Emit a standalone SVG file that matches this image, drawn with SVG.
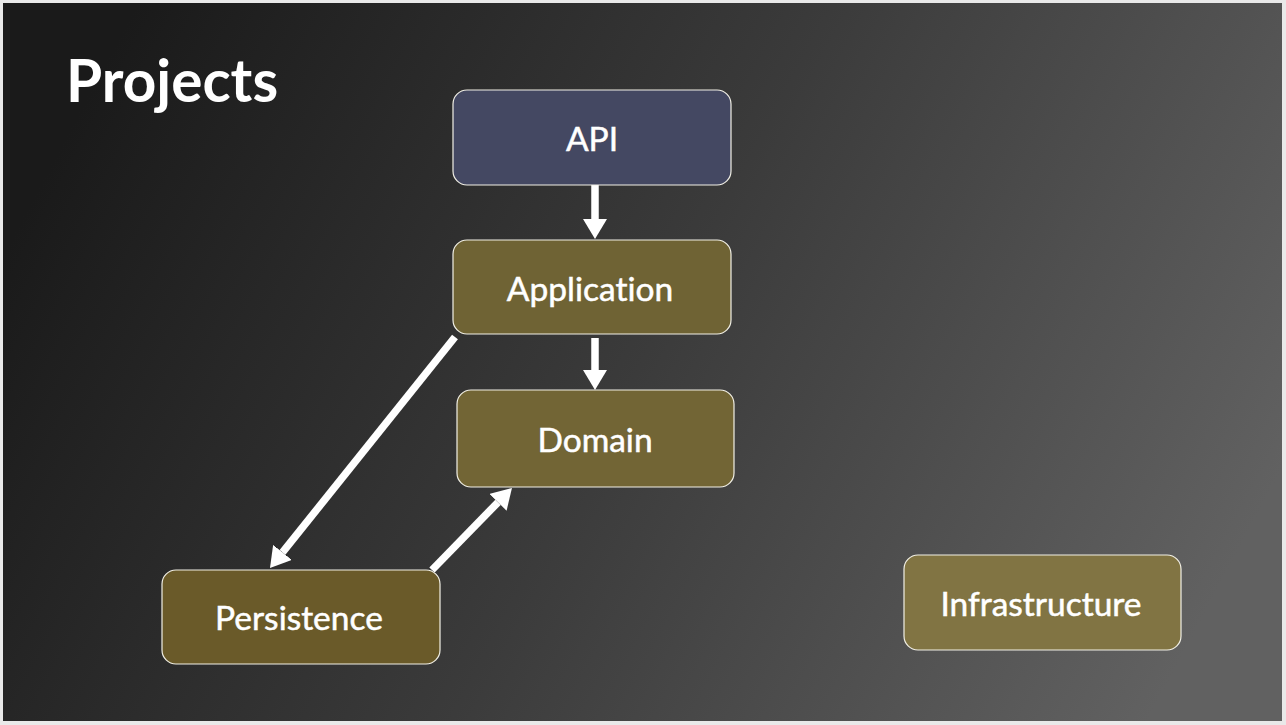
<svg xmlns="http://www.w3.org/2000/svg" width="1286" height="725" viewBox="0 0 1286 725">
<defs>
<linearGradient id="bg" x1="0" y1="0.35" x2="1" y2="0.65">
<stop offset="0" stop-color="#1a1a1a"/>
<stop offset="0.5" stop-color="#3b3b3b"/>
<stop offset="1" stop-color="#616161"/>
</linearGradient>
<marker id="ah" viewBox="0 0 20 24" markerWidth="20" markerHeight="24" refX="0" refY="12" orient="auto" markerUnits="userSpaceOnUse">
<path d="M0,0 L20,12 L0,24 z" fill="#ffffff"/>
</marker>
</defs>
<style>
.node rect{stroke:#f2f0e6;stroke-width:1.2}
.node text{font-family:Lato,"Open Sans","Liberation Sans",sans-serif;font-size:33.5px;fill:#ffffff;text-anchor:middle;dominant-baseline:central;font-variant-ligatures:none;stroke:#ffffff;stroke-width:0.5}
.conn line{stroke:#ffffff;stroke-width:7.5;fill:none}
</style>
<rect x="0" y="0" width="1286" height="725" fill="#e9e9e9"/>
<rect x="3" y="3" width="1279" height="718" fill="url(#bg)"/>
<text x="66" y="102" font-family="Lato,'Open Sans','Liberation Sans',sans-serif" font-weight="bold" font-size="58.5" fill="#ffffff">Projects</text>
<g id="connectors" class="conn">
<line x1="595" y1="185" x2="595" y2="219" marker-end="url(#ah)"/>
<line x1="595" y1="338" x2="595" y2="370" marker-end="url(#ah)"/>
<line x1="455" y1="337" x2="282.5" y2="552.4" marker-end="url(#ah)"/>
<line x1="432" y1="570" x2="498" y2="502.3" marker-end="url(#ah)"/>
</g>
<g id="api" class="node"><rect x="453" y="90" width="278" height="95" rx="14" fill="#444862"/><text x="592" y="138">API</text></g>
<g id="application" class="node"><rect x="453" y="240" width="278" height="94" rx="14" fill="#6f6334"/><text x="590" y="288">Application</text></g>
<g id="domain" class="node"><rect x="457" y="390" width="277" height="97" rx="14" fill="#726535"/><text x="595" y="439">Domain</text></g>
<g id="persistence" class="node"><rect x="162" y="570" width="278" height="94" rx="14" fill="#6a5a29"/><text x="299" y="617">Persistence</text></g>
<g id="infrastructure" class="node"><rect x="904" y="555" width="277" height="95" rx="14" fill="#817443"/><text x="1041" y="603">Infrastructure</text></g>
</svg>
